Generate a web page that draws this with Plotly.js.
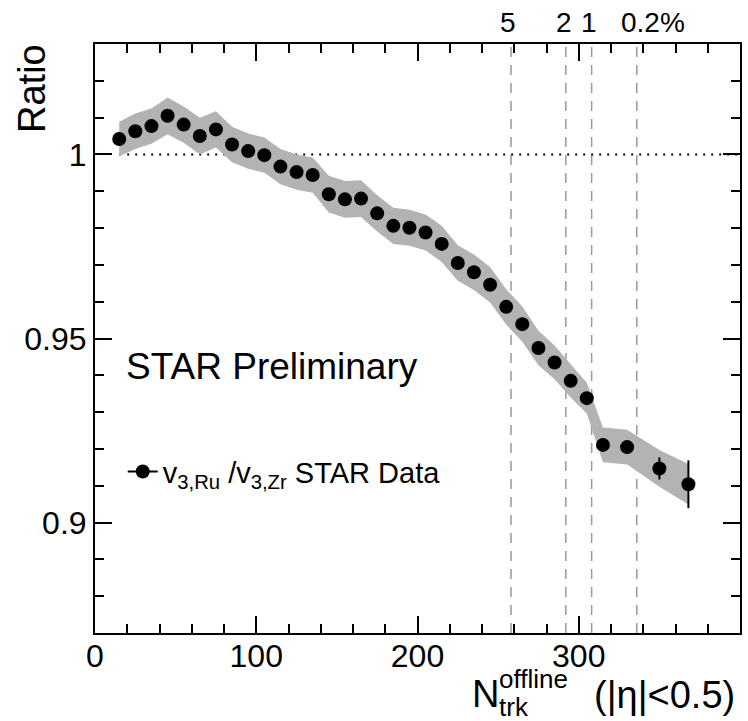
<!DOCTYPE html>
<html>
<head>
<meta charset="utf-8">
<script src="https://cdn.plot.ly/plotly-3.0.1.min.js"></script>
<style>html,body{margin:0;padding:0;background:#fff;}#chart{width:748px;height:721px;}</style>
</head>
<body>
<div id="chart"></div>
<script>
// N_trk^offline bin centres
const nTrk = [15,25,35,45,55,65,75,85,95,105,115,125,135,145,155,165,175,185,195,205,215,225,235,245,255,265,275,285,295,305,315,330,350,368];
// v3,Ru / v3,Zr ratio
const ratio = [1.0042,1.0063,1.0077,1.0105,1.0081,1.0050,1.0068,1.0027,1.0009,0.9998,0.9967,0.9952,0.9944,0.9892,0.9878,0.9880,0.9840,0.9806,0.9801,0.9788,0.9757,0.9705,0.9680,0.9646,0.9586,0.9539,0.9474,0.9435,0.9385,0.9338,0.9211,0.9205,0.9147,0.9104];
// statistical errors
const statErr = [0.0010,0.0010,0.0010,0.0010,0.0010,0.0010,0.0010,0.0010,0.0010,0.0010,0.0010,0.0010,0.0010,0.0010,0.0010,0.0010,0.0010,0.0010,0.0010,0.0010,0.0010,0.0010,0.0010,0.0010,0.0010,0.0012,0.0012,0.0012,0.0013,0.0014,0.0015,0.0016,0.0030,0.0065];
// systematic errors (grey band)
const sysErr = [0.0047,0.0048,0.0048,0.0050,0.0049,0.0050,0.0049,0.0048,0.0048,0.0048,0.0048,0.0048,0.0048,0.0050,0.0050,0.0050,0.0049,0.0049,0.0049,0.0049,0.0049,0.0048,0.0048,0.0048,0.0048,0.0048,0.0047,0.0046,0.0045,0.0042,0.0047,0.0047,0.0050,0.0055];
// centrality boundaries
const centCuts = [258, 292, 308, 336];
const centLabels = ['5', '2', '1', '0.2%'];
const centLabelX = [256, 291, 306.5, 346];
// tick labels
const xTickVals = [0, 100, 200, 300];
const xTickText = ['0', '100', '200', '300'];
const yTickVals = [0.9, 0.95, 1];
const yTickText = ['0.9', '0.95', '1'];
const xRange = [0, 400];
const yRange = [0.87, 1.03];

const FONT = 'Liberation Sans, Arial, Helvetica, sans-serif';

const bandX = nTrk.concat(nTrk.slice().reverse());
const bandY = ratio.map((v, i) => v + sysErr[i]).concat(ratio.map((v, i) => v - sysErr[i]).reverse());

const traces = [
  {
    x: bandX, y: bandY, type: 'scatter', mode: 'lines', fill: 'toself',
    fillcolor: '#b3b3b3', line: {width: 0, color: '#b3b3b3'},
    showlegend: false, hoverinfo: 'skip'
  },
  {
    x: nTrk, y: ratio, type: 'scatter', mode: 'markers',
    marker: {color: 'black', size: 14, symbol: 'circle'},
    error_y: {type: 'data', array: statErr, visible: true, color: 'black', thickness: 2, width: 0},
    showlegend: false
  },
  {
    x: [null], y: [null], type: 'scatter', mode: 'lines+markers',
    name: 'v<sub>3,Ru</sub> /v<sub>3,Zr</sub> STAR Data',
    marker: {color: 'black', size: 14}, line: {color: 'black', width: 2},
    showlegend: true
  },
  // helper traces so the mirrored (top / right) tick axes get drawn
  {x: [null], y: [null], xaxis: 'x2', yaxis: 'y', type: 'scatter', mode: 'markers', showlegend: false},
  {x: [null], y: [null], xaxis: 'x', yaxis: 'y2', type: 'scatter', mode: 'markers', showlegend: false}
];

const shapes = [
  {type: 'line', xref: 'x', yref: 'y', x0: nTrk[0], x1: xRange[1], y0: 1, y1: 1,
   line: {color: 'black', width: 2, dash: '2px,6px'}, layer: 'below'}
].concat(centCuts.map(c => ({
  type: 'line', xref: 'x', yref: 'paper', x0: c, x1: c, y0: 0, y1: 1,
  line: {color: '#999999', width: 1.5, dash: '10px,8px'}, layer: 'below'
})));

const annotations = centLabels.map((t, i) => ({
  text: t, xref: 'x', yref: 'paper', x: centLabelX[i], y: 1.037,
  xanchor: 'center', yanchor: 'middle', showarrow: false,
  font: {family: FONT, size: 28, color: 'black'}
})).concat([
  {text: 'Ratio', xref: 'paper', yref: 'paper', x: -0.098, y: 0.925, textangle: -90,
   xanchor: 'center', yanchor: 'middle', showarrow: false,
   font: {family: FONT, size: 38, color: 'black'}},
  {text: 'STAR Preliminary', xref: 'paper', yref: 'paper', x: 0.045, y: 0.453,
   xanchor: 'left', yanchor: 'middle', showarrow: false,
   font: {family: FONT, size: 37, color: 'black'}},
  {text: 'N', xref: 'paper', yref: 'paper', x: 0.582, y: -0.104,
   xanchor: 'left', yanchor: 'middle', showarrow: false,
   font: {family: FONT, size: 38, color: 'black'}},
  {text: 'offline', xref: 'paper', yref: 'paper', x: 0.6235, y: -0.078,
   xanchor: 'left', yanchor: 'middle', showarrow: false,
   font: {family: FONT, size: 26, color: 'black'}},
  {text: 'trk', xref: 'paper', yref: 'paper', x: 0.6235, y: -0.126,
   xanchor: 'left', yanchor: 'middle', showarrow: false,
   font: {family: FONT, size: 26, color: 'black'}},
  {text: '(|η|<0.5)', xref: 'paper', yref: 'paper', x: 0.995, y: -0.105,
   xanchor: 'right', yanchor: 'middle', showarrow: false,
   font: {family: FONT, size: 38, color: 'black'}}
]);

const tickStyle = {ticks: 'inside', ticklen: 17, tickwidth: 2, tickcolor: 'black'};

const layout = {
  width: 748, height: 721,
  margin: {l: 95, r: 8, t: 44, b: 88},
  paper_bgcolor: 'white', plot_bgcolor: 'white',
  font: {family: FONT, color: 'black'},
  showlegend: true,
  legend: {x: 0.043, y: 0.274, xanchor: 'left', yanchor: 'middle',
           bgcolor: 'rgba(0,0,0,0)', borderwidth: 0,
           font: {family: FONT, size: 29, color: 'black'}},
  xaxis: Object.assign({
    range: xRange, showgrid: false, zeroline: false,
    showline: true, linecolor: 'black', linewidth: 2, mirror: true,
    tickmode: 'array', tickvals: xTickVals, ticktext: xTickText,
    ticklabelstandoff: -6,
    tickfont: {family: FONT, size: 32, color: 'black'},
    minor: {dtick: 20, tick0: 0, ticklen: 9, tickwidth: 2, tickcolor: 'black', ticks: 'inside', showgrid: false}
  }, tickStyle),
  xaxis2: Object.assign({
    range: xRange, overlaying: 'x', side: 'top', anchor: 'y',
    showgrid: false, zeroline: false, showline: false, showticklabels: false,
    tickmode: 'array', tickvals: xTickVals,
    minor: {dtick: 20, tick0: 0, ticklen: 9, tickwidth: 2, tickcolor: 'black', ticks: 'inside', showgrid: false}
  }, tickStyle),
  yaxis: Object.assign({
    range: yRange, showgrid: false, zeroline: false,
    showline: true, linecolor: 'black', linewidth: 2, mirror: true,
    tickmode: 'array', tickvals: yTickVals, ticktext: yTickText,
    tickfont: {family: FONT, size: 32, color: 'black'},
    minor: {dtick: 0.01, tick0: 0.9, ticklen: 9, tickwidth: 2, tickcolor: 'black', ticks: 'inside', showgrid: false}
  }, tickStyle),
  yaxis2: Object.assign({
    range: yRange, overlaying: 'y', side: 'right', anchor: 'x',
    showgrid: false, zeroline: false, showline: false, showticklabels: false,
    tickmode: 'array', tickvals: yTickVals,
    minor: {dtick: 0.01, tick0: 0.9, ticklen: 9, tickwidth: 2, tickcolor: 'black', ticks: 'inside', showgrid: false}
  }, tickStyle),
  shapes: shapes,
  annotations: annotations
};

Plotly.newPlot('chart', traces, layout, {displayModeBar: false, staticPlot: true});
</script>
</body>
</html>
